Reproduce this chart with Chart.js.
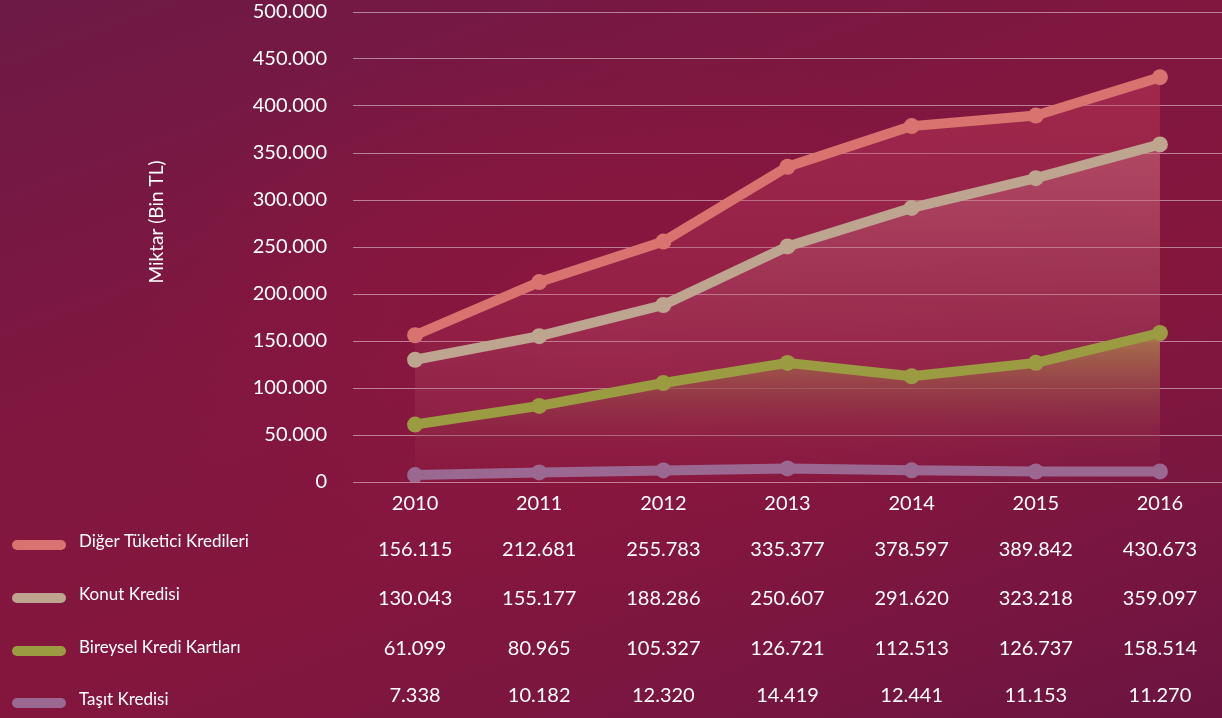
<!DOCTYPE html>
<html>
<head>
<meta charset="utf-8">
<script src="https://cdn.jsdelivr.net/npm/chart.js@4"></script>
<style>
  html, body { margin: 0; padding: 0; }
  body {
    width: 1222px; height: 718px; overflow: hidden;
    background:
      radial-gradient(ellipse 700px 420px at 620px 330px, rgba(140,22,62,0.9), rgba(140,22,62,0) 70%),
      linear-gradient(160deg, #6d1a46 0%, #7f1740 35%, #84163d 60%, #7a1640 80%, #6b1440 100%);
  }
  #wrap { position: relative; width: 1222px; height: 718px; }
</style>
</head>
<body>
<div id="wrap"><canvas id="kredi-chart" width="1222" height="718"></canvas></div>
<script>
const years = ['2010', '2011', '2012', '2013', '2014', '2015', '2016'];
const seriesNames = ['Diğer Tüketici Kredileri', 'Konut Kredisi', 'Bireysel Kredi Kartları', 'Taşıt Kredisi'];
const digerTuketici = [156115, 212681, 255783, 335377, 378597, 389842, 430673];
const konutKredisi = [130043, 155177, 188286, 250607, 291620, 323218, 359097];
const bireyselKart = [61099, 80965, 105327, 126721, 112513, 126737, 158514];
const tasitKredisi = [7338, 10182, 12320, 14419, 12441, 11153, 11270];
const colors = ['#d8736f', '#bea590', '#9b9b42', '#9a6890'];

const FONT = 'Lato, "Open Sans", sans-serif';
const fmt = v => v.toLocaleString('de-DE');

function grad(ctx, stops) {
  const area = ctx.chart.chartArea;
  if (!area) return 'transparent';
  const g = ctx.chart.ctx.createLinearGradient(0, area.top, 0, area.bottom);
  stops.forEach(s => g.addColorStop(s[0], s[1]));
  return g;
}

// table + legend under the chart, aligned on the x scale
const tablePlugin = {
  id: 'tablePlugin',
  afterDraw(chart) {
    const c = chart.ctx;
    const x = chart.scales.x;
    const rowsY = [550, 599, 649, 696];
    const legendY = [542, 595, 648, 700];
    const all = [digerTuketici, konutKredisi, bireyselKart, tasitKredisi];
    c.save();
    all.forEach((data, r) => {
      c.strokeStyle = colors[r];
      c.lineWidth = 10;
      c.lineCap = 'round';
      c.beginPath();
      c.moveTo(17, legendY[r] + 3);
      c.lineTo(61, legendY[r] + 3);
      c.stroke();
      c.fillStyle = '#ffffff';
      c.font = '17px ' + FONT;
      c.textAlign = 'left';
      c.textBaseline = 'middle';
      c.fillText(seriesNames[r], 79, legendY[r]);
      c.font = '20px ' + FONT;
      c.textAlign = 'center';
      data.forEach((v, i) => {
        c.fillText(fmt(v), x.getPixelForValue(i), rowsY[r]);
      });
    });
    // axis title
    c.translate(157, 222);
    c.rotate(-Math.PI / 2);
    c.font = '19px ' + FONT;
    c.textAlign = 'center';
    c.textBaseline = 'middle';
    c.fillText('Miktar (Bin TL)', 0, 0);
    c.restore();
  }
};

new Chart(document.getElementById('kredi-chart'), {
  type: 'line',
  data: {
    labels: years,
    datasets: [
      {
        label: seriesNames[0], data: digerTuketici,
        borderColor: colors[0], pointBackgroundColor: colors[0], pointBorderColor: colors[0],
        fill: 'origin',
        backgroundColor: ctx => grad(ctx, [[0, 'rgba(210,60,90,0.5)'], [0.6, 'rgba(190,70,100,0.22)'], [1, 'rgba(190,70,100,0.05)']])
      },
      {
        label: seriesNames[1], data: konutKredisi,
        borderColor: colors[1], pointBackgroundColor: colors[1], pointBorderColor: colors[1],
        fill: 'origin',
        backgroundColor: ctx => grad(ctx, [[0.2, 'rgba(230,195,185,0.38)'], [0.6, 'rgba(220,160,160,0.15)'], [1, 'rgba(200,120,140,0)']])
      },
      {
        label: seriesNames[2], data: bireyselKart,
        borderColor: colors[2], pointBackgroundColor: colors[2], pointBorderColor: colors[2],
        fill: 'origin',
        backgroundColor: ctx => grad(ctx, [[0.64, 'rgba(165,155,60,1)'], [0.8, 'rgba(140,70,60,0.7)'], [0.95, 'rgba(130,20,60,0)']])
      },
      {
        label: seriesNames[3], data: tasitKredisi,
        borderColor: colors[3], pointBackgroundColor: colors[3], pointBorderColor: colors[3],
        fill: false
      }
    ]
  },
  options: {
    responsive: false,
    animation: false,
    layout: { autoPadding: false, padding: { top: 12, right: 0, bottom: 192, left: 0 } },
    elements: {
      line: { borderWidth: 10, tension: 0, borderCapStyle: 'round', borderJoinStyle: 'round' },
      point: { radius: 8, borderWidth: 0, hoverRadius: 8 }
    },
    plugins: {
      legend: { display: false },
      tooltip: { enabled: false },
      filler: { drawTime: 'beforeDatasetsDraw' }
    },
    scales: {
      x: {
        offset: true,
        grid: { display: false, drawTicks: false },
        border: { display: false },
        ticks: { color: '#ffffff', font: { family: FONT, size: 20 }, padding: 10 }
      },
      y: {
        min: 0, max: 500000,
        afterFit: s => { s.width = 353; s.paddingTop = 0; s.paddingBottom = 0; },
        grid: { color: 'rgba(255,255,255,0.45)', lineWidth: 1, drawTicks: false },
        border: { display: false },
        ticks: {
          stepSize: 50000, padding: 26, color: '#ffffff',
          font: { family: FONT, size: 20 },
          callback: v => fmt(v)
        }
      }
    }
  },
  plugins: [tablePlugin]
});
</script>
</body>
</html>
